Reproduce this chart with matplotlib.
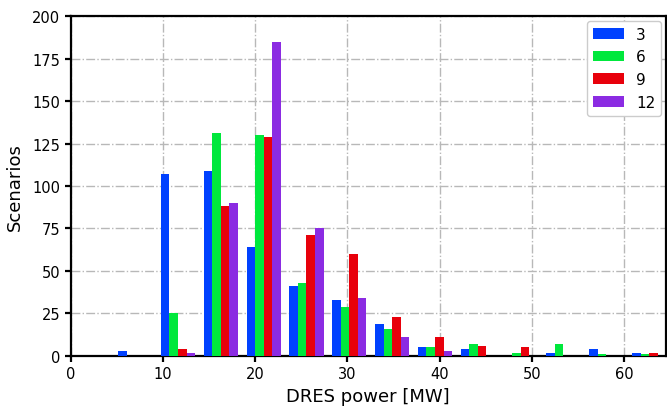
import numpy as np
import matplotlib
matplotlib.use("Agg")
import matplotlib.pyplot as plt

# Histogram bins (DRES power, MW)
bin_start = 4.69
bin_width = 4.64
n_bins = 13

series_labels = ["3", "6", "9", "12"]
counts_3 = [3, 107, 109, 64, 41, 33, 19, 5, 4, 0, 2, 4, 2]
counts_6 = [0, 25, 131, 130, 43, 29, 16, 5, 7, 2, 7, 1, 1]
counts_9 = [0, 4, 88, 129, 71, 60, 23, 11, 6, 5, 0, 0, 2]
counts_12 = [0, 2, 90, 185, 75, 34, 11, 3, 0, 0, 0, 0, 0]
colors = ["#0041ff", "#00e83c", "#e8000b", "#8b2be2"]

x_ticks = [0, 10, 20, 30, 40, 50, 60]
y_ticks = [0, 25, 50, 75, 100, 125, 150, 175, 200]

fig = plt.figure(figsize=(6.67, 4.10), dpi=100)
ax = fig.add_axes([0.1057, 0.1293, 0.8925, 0.8292])

edges = bin_start + bin_width * np.arange(n_bins)
all_counts = [counts_3, counts_6, counts_9, counts_12]
bar_w = 0.8 * bin_width / len(all_counts)
for i, (cnt, lab, col) in enumerate(zip(all_counts, series_labels, colors)):
    ax.bar(edges + 0.1 * bin_width + i * bar_w, cnt, width=bar_w, align="edge",
           color=col, label=lab, zorder=3)

ax.set_xlim(0, 64.5)
ax.set_ylim(0, 200)
ax.set_xticks(x_ticks)
ax.set_yticks(y_ticks)
ax.grid(True, linestyle="-.", color="#b8b8b8", linewidth=1.0, zorder=0)
for s in ax.spines.values():
    s.set_linewidth(1.6)
    s.set_color("black")
ax.tick_params(axis="both", labelsize=10.5, width=1.6, length=4, direction="out", colors="black")
ax.set_xlabel("DRES power [MW]", fontsize=13, labelpad=4)
ax.set_ylabel("Scenarios", fontsize=13, labelpad=6)
ax.legend(loc="upper right", fontsize=11, framealpha=1.0, borderaxespad=0.3)

fig.savefig("out.png", dpi=100)
